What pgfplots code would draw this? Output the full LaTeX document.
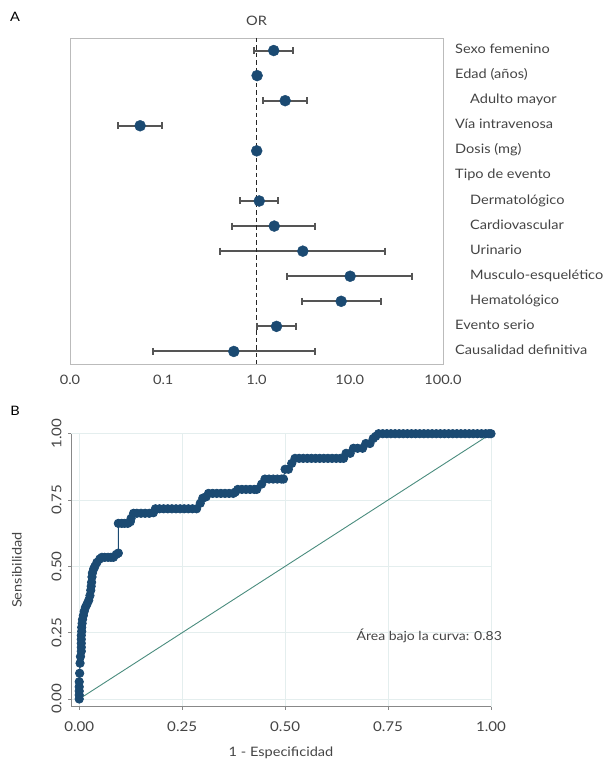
\documentclass[border=0pt]{standalone}
\usepackage{pgfplots}
\pgfplotsset{compat=1.18}
\usepackage{fontspec}
\setmainfont{Lato}[FakeStretch=1.12]
\definecolor{ptblue}{HTML}{1B4A72}
\definecolor{txt}{HTML}{444444}
\definecolor{ebar}{HTML}{555555}
\definecolor{frame}{HTML}{BBBBBB}
\definecolor{gridc}{HTML}{E4EEEE}
\definecolor{diag}{HTML}{4A8C7E}
\definecolor{axc}{HTML}{888888}
\begin{document}
\begin{tikzpicture}
\useasboundingbox (0,0) rectangle (609bp,761bp);
\node[font=\fontsize{13bp}{15bp}\selectfont] at (15bp,744bp) {A};
\node[font=\fontsize{13bp}{15bp}\selectfont] at (15bp,350bp) {B};
% ---------------- Panel A ----------------
\begin{axis}[
  at={(70bp,397bp)}, anchor=south west,
  width=373bp, height=326bp, scale only axis,
  xmode=log, xmin=0.01, xmax=100,
  ymin=0.5, ymax=13.5, y dir=reverse,
  axis line style={frame, line width=0.8bp},
  major tick length=0pt, minor tick length=0pt,
  xminorticks=false,
  xtick={0.01,0.1,1,10,100},
  xticklabels={0.0,0.1,1.0,10.0,100.0},
  ytick={1,...,13},
  yticklabels={Sexo femenino, Edad (años), \hspace*{15bp}Adulto mayor, Vía intravenosa, Dosis (mg), Tipo de evento, \hspace*{15bp}Dermatológico, \hspace*{15bp}Cardiovascular, \hspace*{15bp}Urinario, \hspace*{15bp}Musculo-esquelético, \hspace*{15bp}Hematológico, Evento serio, Causalidad definitiva},
  yticklabel pos=right,
  yticklabel style={anchor=west, inner sep=0pt, xshift=12bp, text height=1.6ex, text depth=0.4ex},
  xticklabel shift=8bp,
  tick label style={font=\fontsize{13bp}{15bp}\selectfont, text=txt},
  title={OR}, title style={font=\fontsize{13bp}{15bp}\selectfont, text=txt, yshift=3bp},
  clip=false,
]
\pgfplotsset{cibar/.style={draw=ebar, line width=2bp, mark=|, mark size=3.5bp, mark options={solid, draw=ebar, line width=2bp}}}
\addplot[cibar] coordinates {(0.95,1) (2.47,1)};
\addplot[cibar] coordinates {(1.18,3) (3.44,3)};
\addplot[cibar] coordinates {(0.0329,4) (0.0958,4)};
\addplot[cibar] coordinates {(0.668,7) (1.71,7)};
\addplot[cibar] coordinates {(0.548,8) (4.26,8)};
\addplot[cibar] coordinates {(0.404,9) (23.6,9)};
\addplot[cibar] coordinates {(2.13,10) (46.7,10)};
\addplot[cibar] coordinates {(3.04,11) (21.4,11)};
\addplot[cibar] coordinates {(1.02,12) (2.64,12)};
\addplot[cibar] coordinates {(0.0786,13) (4.19,13)};
\addplot[draw=black!85, line width=1.9bp, dash pattern=on 4.5bp off 3bp] coordinates {(1,0.5) (1,13.5)};
\addplot[only marks, mark=*, mark size=5.5bp, color=ptblue] coordinates {
(1.53,1) (1.015,2) (2.03,3) (0.0565,4) (1.005,5) (1.07,7) (1.55,8) (3.14,9) (10.1,10) (8.09,11) (1.64,12) (0.571,13)};
\end{axis}
% ---------------- Panel B ----------------
\begin{axis}[
  at={(71bp,54.3bp)}, anchor=south west,
  width=420bp, height=273bp, scale only axis,
  xmin=-0.02, xmax=1, ymin=-0.029, ymax=1,
  axis lines*=left,
  axis line style={axc, line width=0.9bp},
  tick align=outside, major tick length=3bp,
  tick style={axc, line width=0.8bp},
  xtick={0,0.25,0.5,0.75,1},
  xticklabels={0.00,0.25,0.50,0.75,1.00},
  ytick={0,0.25,0.5,0.75,1},
  yticklabels={0.00,0.25,0.50,0.75,1.00},
  yticklabel style={rotate=90, anchor=south},
  xticklabel shift=8bp, yticklabel shift=3bp,
  grid=major, major grid style={gridc, line width=0.7bp},
  tick label style={font=\fontsize{13.5bp}{15bp}\selectfont, text=txt},
  label style={font=\fontsize{13bp}{15bp}\selectfont, text=txt},
  xlabel={1 - Especificidad}, xlabel shift=9bp,
  ylabel={Sensibilidad}, ylabel shift=23bp,
  clip=false,
]
\addplot[color=ptblue, line width=0.8bp, mark=*, mark size=4.2bp, mark options={fill=ptblue, draw=ptblue}] coordinates {
(0,0) (0,0.015) (0,0.03) (0,0.046) (0,0.065) (0.001,0.097) (0.002,0.135) (0.003,0.16)
(0.005,0.18) (0.005,0.195) (0.005,0.21) (0.005,0.225) (0.005,0.24) (0.006,0.255) (0.006,0.27)
(0.007,0.285) (0.008,0.3) (0.01,0.315) (0.012,0.33) (0.015,0.345) (0.019,0.358) (0.023,0.372)
(0.026,0.39) (0.028,0.41) (0.029,0.425) (0.03,0.44) (0.031,0.46) (0.032,0.475) (0.035,0.49)
(0.038,0.5) (0.043,0.515) (0.05,0.528) (0.055,0.534) (0.062,0.534) (0.07,0.534) (0.077,0.534)
(0.083,0.534) (0.09,0.545) (0.095,0.55)
(0.095,0.662) (0.103,0.662) (0.11,0.662) (0.118,0.662) (0.124,0.668) (0.126,0.681) (0.132,0.7)
(0.14,0.7) (0.15,0.7) (0.16,0.7) (0.17,0.7) (0.18,0.702) (0.185,0.717) (0.195,0.717) (0.205,0.717)
(0.215,0.717) (0.225,0.717) (0.235,0.717) (0.245,0.717) (0.255,0.717) (0.265,0.717) (0.275,0.717)
(0.285,0.717) (0.294,0.738) (0.3,0.757) (0.308,0.762) (0.314,0.775) (0.324,0.775) (0.334,0.775)
(0.344,0.775) (0.354,0.775) (0.364,0.775) (0.374,0.775) (0.379,0.78) (0.385,0.79) (0.395,0.79)
(0.405,0.79) (0.415,0.79) (0.425,0.79) (0.431,0.79) (0.443,0.81) (0.451,0.829) (0.461,0.829)
(0.471,0.829) (0.481,0.829) (0.491,0.829) (0.496,0.829) (0.5,0.866) (0.508,0.866) (0.516,0.888)
(0.524,0.907) (0.534,0.907) (0.544,0.907) (0.554,0.907) (0.564,0.907) (0.574,0.907) (0.584,0.907)
(0.594,0.907) (0.604,0.907) (0.614,0.907) (0.624,0.907) (0.634,0.907) (0.642,0.907) (0.648,0.926)
(0.658,0.926) (0.666,0.945) (0.676,0.945) (0.688,0.945) (0.696,0.963) (0.706,0.963) (0.714,0.982)
(0.72,0.99) (0.727,1) (0.737,1) (0.747,1) (0.757,1) (0.767,1) (0.777,1) (0.787,1) (0.797,1)
(0.807,1) (0.817,1) (0.827,1) (0.837,1) (0.847,1) (0.857,1) (0.867,1) (0.877,1) (0.887,1)
(0.897,1) (0.907,1) (0.917,1) (0.927,1) (0.937,1) (0.947,1) (0.957,1) (0.967,1) (0.977,1)
(0.987,1) (0.995,1) (1,1)};
\addplot[color=diag, line width=0.9bp] coordinates {(0,0) (1,1)};
\node[font=\fontsize{12.5bp}{15bp}\selectfont, text=txt] at (axis cs:0.85,0.237) {Área bajo la curva: 0.83};
\end{axis}
\end{tikzpicture}
\end{document}
